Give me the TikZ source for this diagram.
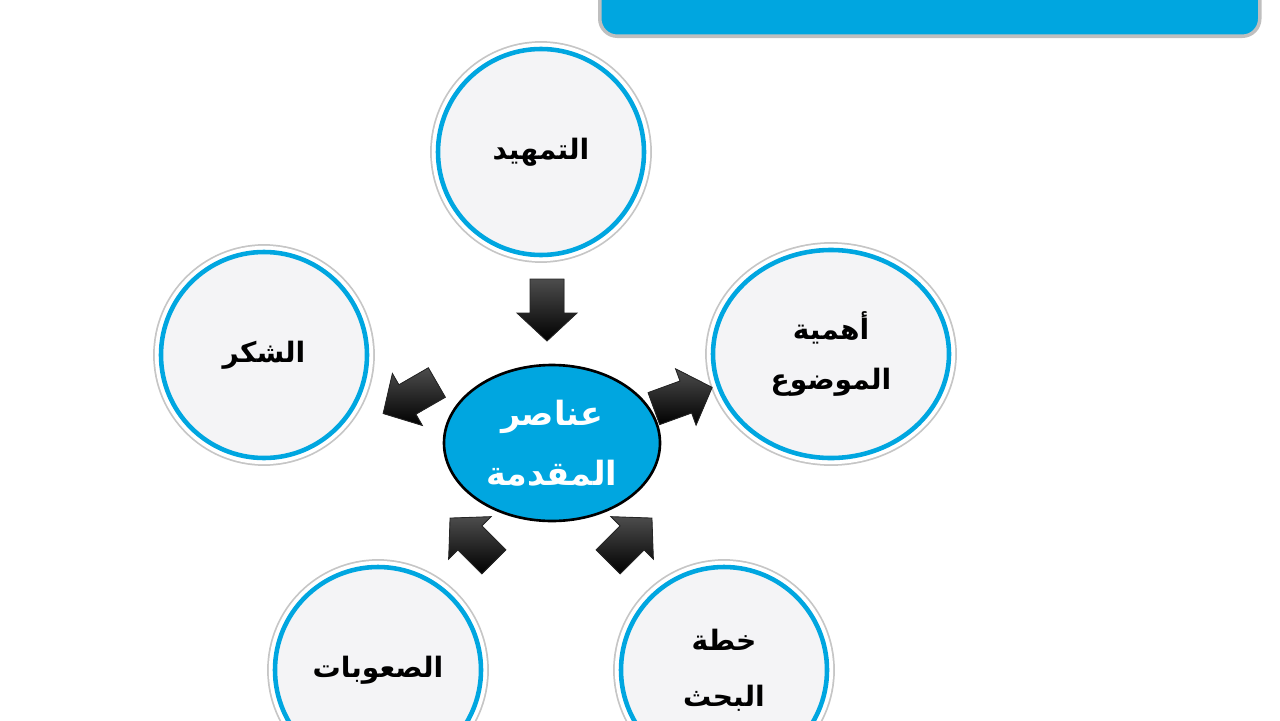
\documentclass[tikz,border=0pt]{standalone}
\usepackage{fontspec}
\usetikzlibrary{shapes.arrows,shapes.geometric,shadows}
\TeXXeTstate=1
\newfontfamily\arabicfont[Script=Arabic]{DejaVu Sans}
\definecolor{cblue}{RGB}{0,166,224}
\definecolor{cfill}{RGB}{244,244,246}
\tikzset{
  topic/.style={circle, minimum size=206*0.02cm, fill=cfill, draw=cblue, line width=2.6pt,
    preaction={draw=gray!45, line width=9pt}, preaction={draw=white, line width=7pt},
    font=\arabicfont\fontsize{16}{26}\selectfont\bfseries, align=center},
  barrow/.style={fill=black, draw=gray!30!black, line width=0.5pt, shading=axis, top color=gray!60!black, bottom color=black}
}
\newcommand{\blockarrow}[3]{%
  \begin{scope}[shift={(#1)}, rotate=#2]
  \path[barrow] (-31,-17) -- (3,-17) -- (3,-30) -- (31,0) -- (3,30) -- (3,17) -- (-31,17) -- cycle;
  \coordinate (#3) at (0,0);
  \end{scope}}
\begin{document}
\begin{tikzpicture}[x=0.02cm,y=-0.02cm]
\useasboundingbox (0,0) rectangle (1280,720);
\node[draw=gray!50, line width=2pt, fill=cblue, rounded corners=10pt, minimum width=660*0.02cm, minimum height=60*0.02cm, anchor=south west] (banner) at (598,38) {};
\node[topic] (t) at (541,152) {\beginR التمهيد\endR};
\node[topic] (l) at (264,355) {\beginR الشكر\endR};
\node[topic, ellipse, minimum width=236*0.02cm, minimum height=208*0.02cm] (r) at (831,354) {\beginR أهمية\endR\\[2pt]\beginR الموضوع\endR};
\node[topic] (bl) at (378,670) {\beginR الصعوبات\endR};
\node[topic] (br) at (724,670) {\beginR خطة\endR\\[6pt]\beginR البحث\endR};
\node[ellipse, fill=cblue, draw=black, line width=1.5pt, minimum width=216*0.02cm, minimum height=156*0.02cm,
  font=\arabicfont\fontsize{19}{34}\selectfont\bfseries, text=white, align=center] (c) at (552,443) {\beginR عناصر\endR\\\beginR المقدمة\endR};
\blockarrow{547,310}{-90}{a1}
\blockarrow{410,398}{-150}{a2}
\blockarrow{683,398}{20}{a3}
\blockarrow{472,540}{135}{a4}
\blockarrow{630,540}{45}{a5}
\end{tikzpicture}
\end{document}
